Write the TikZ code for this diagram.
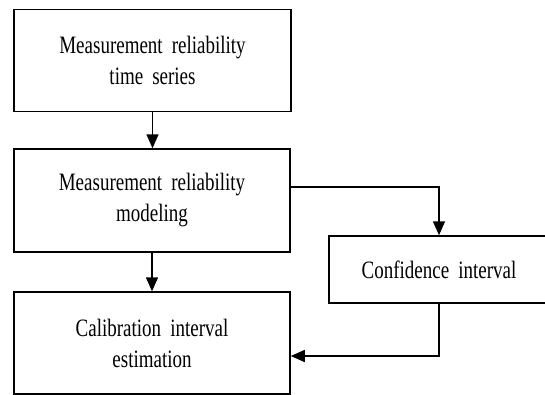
\documentclass[tikz,border=0pt]{standalone}
\usepackage{fontspec}
\setmainfont{Liberation Serif}[FakeStretch=0.76, WordSpace=1.9]
\usetikzlibrary{arrows.meta}

\tikzset{
    blockbox/.style = {draw, line width=1.5pt, inner sep=0pt, align=center,
                       font=\fontsize{25}{31}\selectfont},
    conn/.style = {-{Triangle[length=14pt, width=12pt]}, line width=1.5pt}
}

\begin{document}
\begin{tikzpicture}[x=1pt, y=-1pt]
        \useasboundingbox (0, 0) rectangle (545, 394);

        \node [blockbox, minimum width=277pt, minimum height=102pt] (series) at (152.5, 60.5) {Measurement reliability\\time series};
        \node [blockbox, minimum width=276pt, minimum height=103pt] (modeling) at (152, 200.5) {Measurement reliability\\modeling};
        \node [blockbox, minimum width=276pt, minimum height=102pt] (estimation) at (152, 343) {Calibration interval\\estimation};
        \node [blockbox, minimum width=220pt, minimum height=67pt] (confidence) at (439, 269.5) {Confidence interval};

        \draw [conn] (series.south) -- (series.south |- modeling.north);
        \draw [conn] (modeling.south) -- (estimation.north);
        \draw [conn] ([yshift=13.5pt] modeling.east) -| (confidence.north);
        \draw [conn] (confidence.south) |- ([yshift=-13pt] estimation.east);
    \end{tikzpicture}
\end{document}
